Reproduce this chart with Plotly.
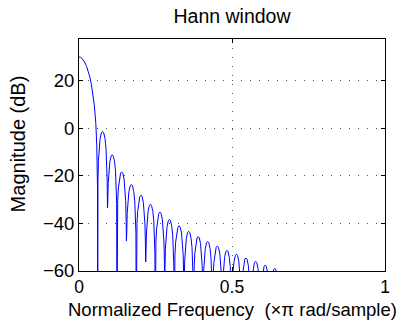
import plotly.graph_objects as go

# Main lobe of the Hann window response (normalized frequency, dB)
main_freq = [0.0, 0.005, 0.010, 0.015, 0.020, 0.025, 0.030, 0.035, 0.040,
             0.045, 0.050, 0.055, 0.058, 0.0605]
main_db = [30.0, 29.9, 29.4, 28.6, 27.5, 26.0, 24.1, 21.8, 18.8,
           15.0, 9.8, 2.0, -7.0, -25.0]

# Null positions and depths of the sidelobe region
null_freq = [0.061, 0.093, 0.124, 0.155, 0.187, 0.218, 0.249, 0.280, 0.311,
             0.343, 0.374, 0.405, 0.436, 0.468, 0.499, 0.530, 0.561, 0.593,
             0.624, 0.655, 0.686]
null_db = [-90, -33.5, -90, -47.4, -90, -56.2, -90, -90, -90, -90, -90, -90,
           -90, -90, -90, -90, -90, -90, -90, -90, -90]

# Peak level of each sidelobe (between consecutive nulls)
lobe_peak_db = [-1.3, -11.1, -18.3, -23.6, -28.1, -31.9, -35.2, -38.3, -41.0,
                -43.3, -45.5, -47.5, -49.5, -51.3, -52.9, -54.5, -55.9, -57.5,
                -58.9, -60.1]

# Arch profile of one sidelobe: position across the lobe and level below its peak
arch_pos = [0.03, 0.08, 0.15, 0.25, 0.38, 0.5, 0.62, 0.75, 0.85, 0.92, 0.97]
arch_drop = [-20.5, -12.1, -6.9, -3.0, -0.6, 0.0, -0.6, -3.0, -6.9, -12.1, -20.5]

freq = list(main_freq)
mag = list(main_db)
for i, f0 in enumerate(null_freq):
    freq.append(f0)
    mag.append(null_db[i])
    if i < len(lobe_peak_db):
        f1 = null_freq[i + 1]
        for p, d in zip(arch_pos, arch_drop):
            freq.append(f0 + p * (f1 - f0))
            mag.append(lobe_peak_db[i] + d)

FONT = "Liberation Sans, Arial, Helvetica, sans-serif"

fig = go.Figure(go.Scatter(x=freq, y=mag, mode="lines",
                           line=dict(color="#0000ff", width=1),
                           hoverinfo="skip"))

axis_common = dict(showline=True, linecolor="black", linewidth=1, mirror="ticks",
                   ticks="inside", ticklen=4, tickcolor="black",
                   showgrid=True, gridcolor="#555555", gridwidth=1,
                   griddash="1px,8px", zeroline=False)

fig.update_xaxes(range=[0, 1], tickvals=[0, 0.5, 1], ticktext=["0", "0.5", "1"],
                 ticklabelstandoff=0,
                 tickfont=dict(family=FONT, size=17.5, color="black"),
                 **axis_common)
fig.update_yaxes(range=[-60, 37.6], tickvals=[-60, -40, -20, 0, 20],
                 ticktext=["\u221260", "\u221240", "\u221220", "0", "20"],
                 tickfont=dict(family=FONT, size=18.5, color="black"),
                 **axis_common)

fig.update_layout(
    width=411, height=323,
    margin=dict(l=79, r=26, t=39, b=52),
    paper_bgcolor="white", plot_bgcolor="white",
    showlegend=False,
    title=dict(text="Hann window", x=0.5, xref="paper", xanchor="center",
               y=1 - 16 / 323, yref="container", yanchor="middle",
               font=dict(family=FONT, size=19.5, color="black")),
    annotations=[
        dict(text="Normalized Frequency \u00a0(\u00d7\u03c0 rad/sample)",
             x=0.5, y=-0.165, xref="paper", yref="paper",
             xanchor="center", yanchor="middle", showarrow=False,
             font=dict(family=FONT, size=18.5, color="black")),
        dict(text="Magnitude (dB)", textangle=-90,
             x=-61 / 306, y=0.55, xref="paper", yref="paper",
             xanchor="center", yanchor="middle", showarrow=False,
             font=dict(family=FONT, size=20, color="black")),
    ],
)

fig.write_html("out.html")
